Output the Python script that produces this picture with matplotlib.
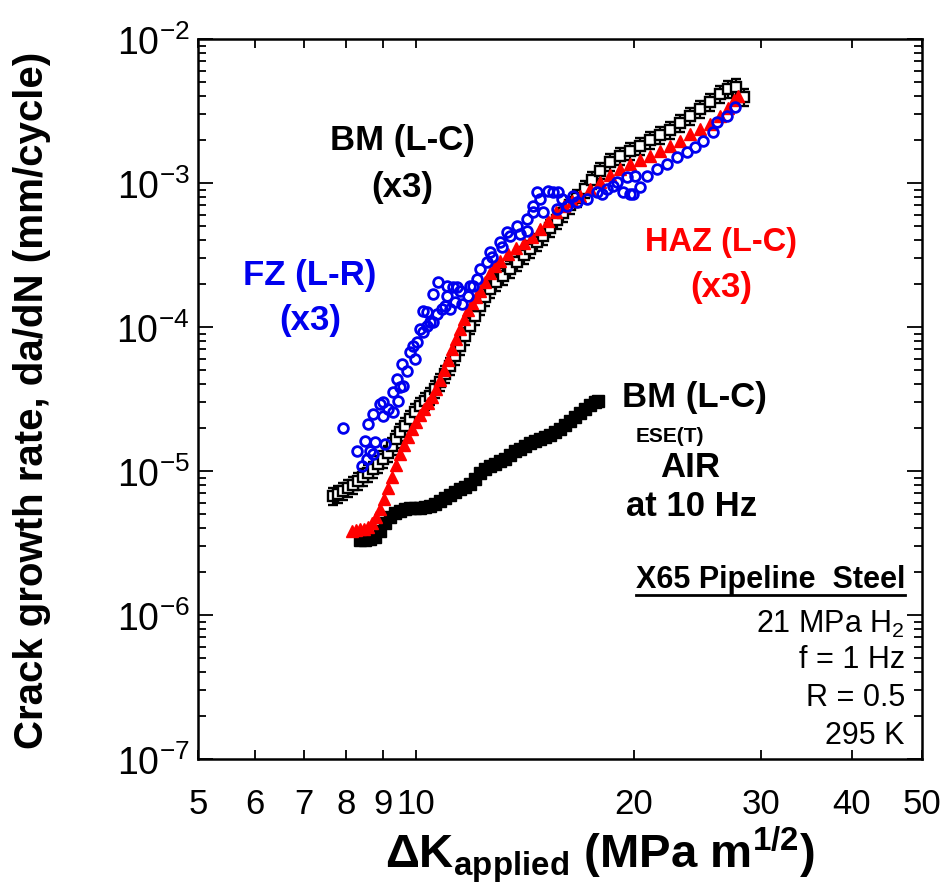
import matplotlib
matplotlib.use("Agg")
import matplotlib.pyplot as plt
from matplotlib import font_manager
from matplotlib.ticker import FixedLocator, FixedFormatter, LogLocator, NullFormatter
from matplotlib.lines import Line2D

# ---------------- data ----------------
# BM (L-C) in air, 10 Hz (filled squares)
air_dk = [8.37, 8.50, 8.64, 8.78, 8.92, 9.06, 9.21, 9.36, 9.51, 9.66, 9.81, 9.97, 10.13, 10.29,
          10.46, 10.63, 10.80, 10.97, 11.15, 11.33, 11.51, 11.69, 11.88, 12.07, 12.26, 12.46,
          12.66, 12.86, 13.07, 13.28, 13.49, 13.71, 13.93, 14.15, 14.38, 14.61, 14.84, 15.08,
          15.32, 15.57, 15.81, 16.07, 16.33, 16.59, 16.85, 17.12, 17.40, 17.68, 17.85]
air_dadn = [3.32e-6, 3.32e-6, 3.37e-6, 3.48e-6, 3.83e-6, 4.36e-6, 4.80e-6, 5.11e-6, 5.27e-6,
            5.44e-6, 5.53e-6, 5.53e-6, 5.53e-6, 5.62e-6, 5.71e-6, 5.90e-6, 6.19e-6, 6.49e-6,
            6.81e-6, 7.15e-6, 7.50e-6, 7.74e-6, 8.12e-6, 8.80e-6, 9.68e-6, 1.03e-5, 1.08e-5,
            1.12e-5, 1.17e-5, 1.21e-5, 1.29e-5, 1.38e-5, 1.42e-5, 1.49e-5, 1.56e-5, 1.62e-5,
            1.67e-5, 1.72e-5, 1.78e-5, 1.87e-5, 1.96e-5, 2.09e-5, 2.23e-5, 2.37e-5, 2.53e-5,
            2.70e-5, 2.87e-5, 3.01e-5, 3.06e-5]

# BM (L-C) in H2 (squares with error bars)
bm_dk = [7.68, 7.80, 7.93, 8.06, 8.19, 8.32, 8.45, 8.58, 8.72, 8.86, 9.00, 9.15, 9.27, 9.39,
         9.51, 9.66, 9.81, 9.97, 10.13, 10.29, 10.46, 10.63, 10.80, 10.97, 11.15, 11.33, 11.51,
         11.69, 11.88, 12.07, 12.26, 12.46, 12.66, 12.90, 13.20, 13.49, 13.80, 14.10, 14.38,
         14.70, 14.98, 15.32, 15.67, 15.97, 16.33, 16.70, 17.12, 17.51, 17.96, 18.54, 19.14,
         19.76, 20.39, 21.05, 21.73, 22.43, 23.16, 23.91, 24.68, 25.48, 26.30, 26.97, 27.67,
         28.39]
bm_dadn = [6.70e-6, 6.92e-6, 7.26e-6, 7.62e-6, 8.00e-6, 8.53e-6, 9.08e-6, 9.68e-6, 1.03e-5,
           1.12e-5, 1.21e-5, 1.33e-5, 1.49e-5, 1.67e-5, 1.87e-5, 2.05e-5, 2.30e-5, 2.57e-5,
           2.83e-5, 3.06e-5, 3.32e-5, 3.71e-5, 4.15e-5, 4.72e-5, 5.36e-5, 6.29e-5, 7.38e-5,
           8.66e-5, 1.02e-4, 1.19e-4, 1.40e-4, 1.62e-4, 1.84e-4, 2.05e-4, 2.26e-4, 2.53e-4,
           2.83e-4, 3.16e-4, 3.48e-4, 3.89e-4, 4.28e-4, 4.87e-4, 5.53e-4, 6.19e-4, 7.03e-4,
           7.87e-4, 9.08e-4, 1.05e-3, 1.22e-3, 1.40e-3, 1.54e-3, 1.67e-3, 1.81e-3, 1.99e-3,
           2.15e-3, 2.33e-3, 2.61e-3, 2.92e-3, 3.27e-3, 3.65e-3, 4.15e-3, 4.50e-3, 4.64e-3,
           3.95e-3]
bm_err_frac = 0.13

# HAZ (L-C) in H2 (red triangles)
haz_dk = [8.16, 8.27, 8.37, 8.47, 8.58, 8.70, 8.81, 8.92, 9.03, 9.15, 9.27, 9.39, 9.51, 9.63,
          9.75, 9.87, 10.00, 10.13, 10.26, 10.39, 10.53, 10.66, 10.80, 10.94, 11.08, 11.22,
          11.37, 11.51, 11.66, 11.80, 11.96, 12.11, 12.26, 12.46, 12.66, 12.86, 13.07, 13.41,
          13.75, 14.10, 14.47, 14.84, 15.22, 15.62, 16.02, 16.43, 16.85, 17.40, 17.96, 18.54,
          19.14, 19.76, 20.39, 21.05, 21.73, 22.43, 23.16, 23.91, 24.68, 25.48, 26.30, 26.97,
          27.49, 27.85]
haz_dadn = [3.83e-6, 3.89e-6, 3.95e-6, 3.95e-6, 4.08e-6, 4.36e-6, 4.80e-6, 5.44e-6, 6.39e-6,
            7.62e-6, 9.08e-6, 1.10e-5, 1.31e-5, 1.52e-5, 1.72e-5, 1.96e-5, 2.19e-5, 2.45e-5,
            2.70e-5, 2.97e-5, 3.27e-5, 3.71e-5, 4.28e-5, 5.03e-5, 5.90e-5, 7.03e-5, 8.25e-5,
            9.68e-5, 1.14e-4, 1.31e-4, 1.47e-4, 1.62e-4, 1.78e-4, 2.05e-4, 2.37e-4, 2.65e-4,
            2.87e-4, 3.21e-4, 3.54e-4, 3.83e-4, 4.22e-4, 4.80e-4, 5.45e-4, 6.29e-4, 6.92e-4,
            7.50e-4, 8.12e-4, 9.08e-4, 1.02e-3, 1.14e-3, 1.25e-3, 1.36e-3, 1.44e-3, 1.54e-3,
            1.67e-3, 1.81e-3, 1.96e-3, 2.19e-3, 2.37e-3, 2.57e-3, 2.92e-3, 3.32e-3, 3.77e-3,
            4.02e-3]

# FZ (L-R) in H2 (blue open circles)
fz_dk = [7.93, 8.29, 8.42, 8.50, 8.55, 8.64, 8.72, 8.78, 8.58, 8.72, 8.92, 9.00, 9.06, 9.15,
         9.30, 9.30, 9.45, 9.51, 9.42, 9.60, 9.00, 9.57, 9.72, 9.81, 9.91, 9.97, 10.04, 10.13,
         10.23, 10.23, 10.36, 10.36, 10.46, 10.56, 10.56, 10.70, 10.73, 10.87, 10.97, 11.04,
         11.04, 11.15, 11.26, 11.33, 11.40, 11.51, 11.58, 11.80, 11.88, 11.99, 12.15, 12.26,
         12.54, 12.66, 12.74, 13.07, 13.15, 13.37, 13.49, 13.80, 13.93, 14.24, 14.24, 14.52,
         14.52, 14.70, 14.84, 14.98, 15.22, 15.47, 15.72, 15.67, 15.91, 16.17, 16.49, 16.70,
         17.23, 17.79, 18.08, 18.37, 18.72, 18.96, 19.33, 19.58, 19.76, 19.95, 20.07, 20.39,
         20.85, 21.51, 22.20, 22.94, 23.68, 24.29, 24.92, 25.73, 26.05, 26.89, 27.58]
fz_dadn = [1.99e-5, 1.38e-5, 1.08e-5, 1.62e-5, 1.21e-5, 1.38e-5, 1.31e-5, 1.59e-5, 2.12e-5,
           2.49e-5, 2.92e-5, 2.41e-5, 1.54e-5, 2.70e-5, 2.57e-5, 3.54e-5, 3.06e-5, 3.83e-5,
           4.36e-5, 3.89e-5, 3.01e-5, 5.53e-5, 4.95e-5, 6.70e-5, 7.38e-5, 6.00e-5, 7.87e-5,
           9.68e-5, 9.23e-5, 1.29e-4, 1.02e-4, 1.27e-4, 1.08e-4, 1.69e-4, 1.08e-4, 1.23e-4,
           2.05e-4, 1.33e-4, 1.40e-4, 1.93e-4, 1.64e-4, 1.33e-4, 1.90e-4, 1.49e-4, 1.90e-4,
           1.78e-4, 1.44e-4, 1.64e-4, 1.93e-4, 1.93e-4, 2.15e-4, 2.53e-4, 2.83e-4, 3.32e-4,
           3.06e-4, 3.89e-4, 3.59e-4, 4.57e-4, 4.28e-4, 5.03e-4, 4.43e-4, 5.62e-4, 4.64e-4,
           6.29e-4, 6.92e-4, 8.66e-4, 7.74e-4, 6.29e-4, 8.80e-4, 8.66e-4, 8.66e-4, 6.60e-4,
           7.74e-4, 6.92e-4, 8.12e-4, 7.38e-4, 7.74e-4, 8.66e-4, 8.39e-4, 9.08e-4, 9.53e-4,
           1.02e-3, 8.66e-4, 1.10e-3, 8.39e-4, 8.39e-4, 1.12e-3, 9.39e-4, 1.12e-3, 1.25e-3,
           1.36e-3, 1.52e-3, 1.64e-3, 1.78e-3, 1.96e-3, 2.26e-3, 2.65e-3, 2.92e-3, 3.37e-3]

x_ticks = [5, 6, 7, 8, 9, 10, 20, 30, 40, 50]
x_ticklabels = ["5", "6", "7", "8", "9", "10", "20", "30", "40", "50"]
y_ticks = [1e-7, 1e-6, 1e-5, 1e-4, 1e-3, 1e-2]
y_ticklabels = [r"$10^{-7}$", r"$10^{-6}$", r"$10^{-5}$", r"$10^{-4}$", r"$10^{-3}$", r"$10^{-2}$"]

# ---------------- style ----------------
def has_font(name):
    try:
        font_manager.findfont(font_manager.FontProperties(family=name), fallback_to_default=False)
        return True
    except Exception:
        return False

BASE = "Liberation Sans"
NARROW = "Liberation Sans Narrow" if has_font("Liberation Sans Narrow") else BASE
plt.rcParams["font.family"] = [BASE, "DejaVu Sans"]
plt.rcParams["mathtext.fontset"] = "custom"
plt.rcParams["mathtext.rm"] = NARROW
plt.rcParams["mathtext.it"] = NARROW
plt.rcParams["mathtext.bf"] = BASE + ":bold"

fig = plt.figure(figsize=(9.41, 8.95), dpi=100)
ax = fig.add_axes([198 / 941, 1 - 760 / 895, 724 / 941, 720 / 895])
ax.set_xscale("log")
ax.set_yscale("log")
ax.set_xlim(5, 50)
ax.set_ylim(1e-7, 1e-2)

# data
ax.plot(air_dk, air_dadn, ls="none", marker="s", ms=8.5, mfc="black", mec="black", zorder=2)
bm_lo = [v * bm_err_frac for v in bm_dadn]
ax.errorbar(bm_dk, bm_dadn, yerr=[bm_lo, bm_lo], fmt="s", ms=6.5, mfc="white", mec="black",
            mew=1.7, ecolor="black", elinewidth=1.6, capsize=3.5, capthick=1.6, zorder=3)
ax.plot(haz_dk, haz_dadn, ls="none", marker="^", ms=8.5, mfc="#ff0000", mec="#ff0000", zorder=4)
ax.plot(fz_dk, fz_dadn, ls="none", marker="o", ms=7, mfc="none", mec="#0000ee", mew=2.0, zorder=5)

# axes styling
for s in ax.spines.values():
    s.set_linewidth(1.8)
ax.xaxis.set_major_locator(FixedLocator(x_ticks))
ax.xaxis.set_major_formatter(FixedFormatter(x_ticklabels))
ax.xaxis.set_minor_locator(FixedLocator([10]))
ax.xaxis.set_minor_formatter(NullFormatter())
ax.yaxis.set_major_locator(FixedLocator(y_ticks))
ax.yaxis.set_major_formatter(FixedFormatter(y_ticklabels))
ax.yaxis.set_minor_locator(LogLocator(base=10, subs=range(2, 10), numticks=20))
ax.yaxis.set_minor_formatter(NullFormatter())

ax.tick_params(axis="x", which="major", direction="in", top=True, bottom=True, length=6.5,
               width=1.3, pad=20, labelsize=25)
ax.tick_params(axis="x", which="minor", direction="in", top=True, bottom=True, length=11,
               width=1.3)
ax.tick_params(axis="y", which="major", direction="in", left=True, right=True, length=11,
               width=1.3, pad=6, labelsize=27)
ax.tick_params(axis="y", which="minor", direction="in", left=True, right=True, length=6,
               width=1.3)
for lab in ax.get_xticklabels():
    lab.set_family([NARROW, BASE])

# annotations
bold = dict(fontweight="bold", fontsize=25, ha="center", va="center", transform=ax.transAxes)
ax.text(0.2818, 0.8611, "BM (L-C)", color="black", **bold)
ax.text(0.2818, 0.7958, "(x3)", color="black", **bold)
ax.text(0.1547, 0.6736, "FZ (L-R)", color="#0000ee", **bold)
ax.text(0.1547, 0.6111, "(x3)", color="#0000ee", **bold)
ax.text(0.7224, 0.7194, "HAZ (L-C)", color="#ff0000", fontweight="bold", fontsize=23.5,
        ha="center", va="center", transform=ax.transAxes)
ax.text(0.7224, 0.6569, "(x3)", color="#ff0000", **bold)
ax.text(0.685, 0.504, "BM (L-C)", color="black", **bold)
ax.text(0.652, 0.449, "ESE(T)", color="black", fontweight="bold", fontsize=15, ha="center",
        va="center", transform=ax.transAxes)
ax.text(0.6796, 0.4069, "AIR", color="black", **bold)
ax.text(0.682, 0.3514, "at 10 Hz", color="black", **bold)

reg = dict(fontsize=22, ha="right", va="center", transform=ax.transAxes, color="black")
t_head = ax.text(0.9765, 0.25, "X65 Pipeline  Steel", fontweight="bold", **reg)
ax.text(0.9765, 0.1889, r"21 MPa H$_{2}$", **reg)
ax.text(0.9765, 0.1389, "f = 1 Hz", **reg)
ax.text(0.9765, 0.0861, "R = 0.5", **reg)
ax.text(0.9765, 0.0333, "295 K", **reg)

fig.text(32 / 941, 1 - 400 / 895, "Crack growth rate, da/dN (mm/cycle)", rotation=90,
         fontsize=29, fontweight="bold", ha="center", va="center")
fig.text(600 / 941, 1 - 855 / 895, r"ΔK$_{\mathbf{applied}}$ (MPa m$^{\mathbf{1/2}}$)",
         fontsize=34, fontweight="bold", ha="center", va="center")

# underline for the heading
fig.canvas.draw()
bb = t_head.get_window_extent()
inv = fig.transFigure.inverted()
(x0, y0) = inv.transform((bb.x0, bb.y0 - 1))
(x1, _) = inv.transform((bb.x1, bb.y0 - 1))
fig.add_artist(Line2D([x0, x1], [y0, y0], transform=fig.transFigure, color="black", lw=2))

fig.savefig("out.png", dpi=100)
